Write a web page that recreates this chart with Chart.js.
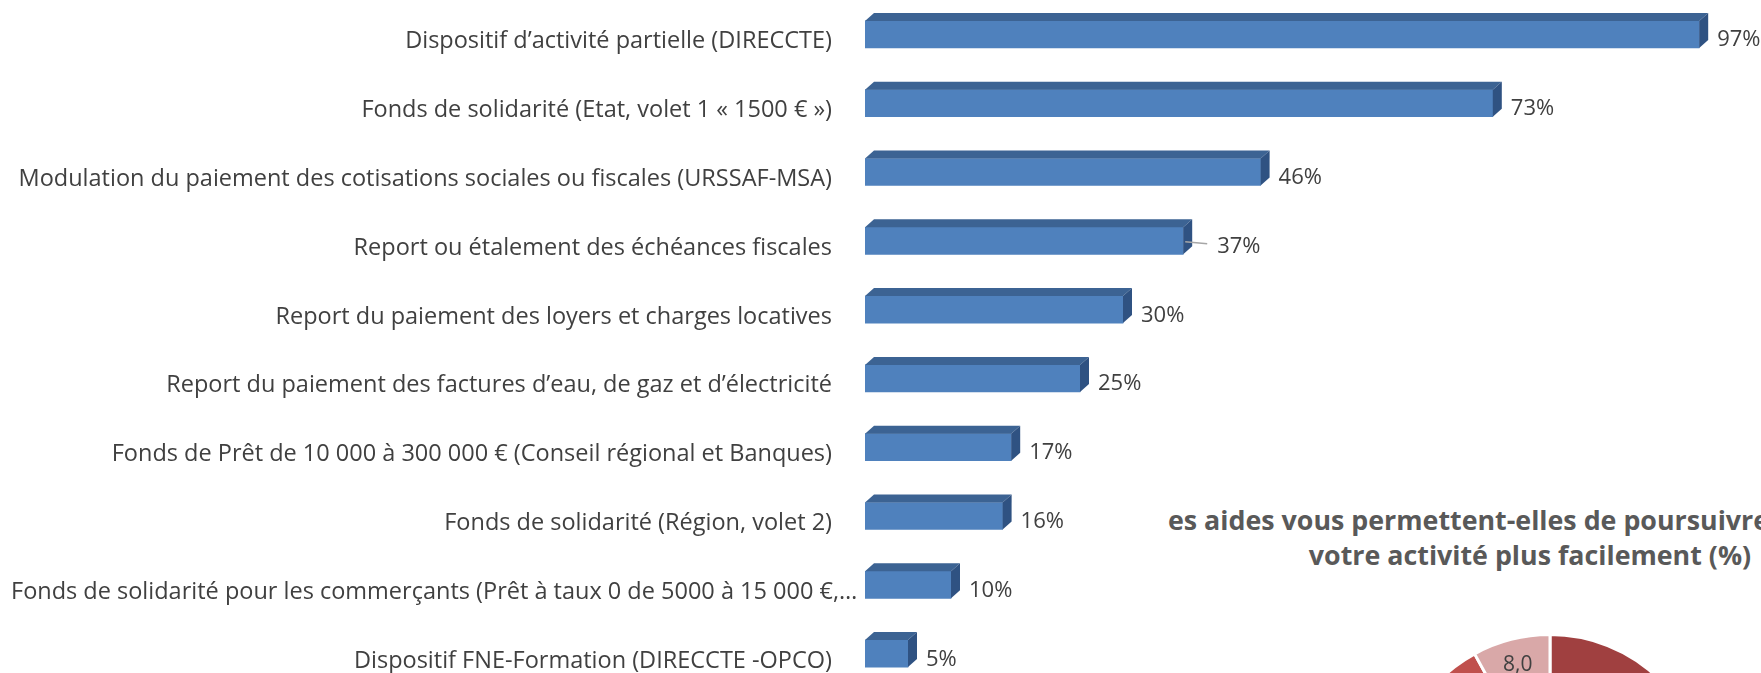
<!DOCTYPE html>
<html lang="fr">
<head>
<meta charset="utf-8">
<title>Aides mobilisées</title>
<script src="https://cdn.jsdelivr.net/npm/chart.js@4.4.1/dist/chart.umd.min.js"></script>
<style>
  html, body { margin: 0; padding: 0; background: #fff; overflow: hidden; }
  #page { position: relative; width: 1761px; height: 673px; overflow: hidden; }
  #barChart { position: absolute; left: 0; top: 0; }
  #pieChart { position: absolute; left: 1380px; top: 621px; }
  .pieTitle {
    position: absolute;
    font-family: 'Open Sans', sans-serif;
    font-weight: 700;
    font-size: 26.8px;
    line-height: 27px;
    color: #595959;
    white-space: nowrap;
  }
  #pieTitle1 { left: 1168px; top: 506px; }
  #pieTitle2 { left: 1530px; top: 541px; transform: translateX(-50%); }
</style>
</head>
<body>
<div id="page">
  <div class="pieTitle" id="pieTitle1">es aides vous permettent-elles de poursuivre</div>
  <div class="pieTitle" id="pieTitle2">votre activité plus facilement (%)</div>
  <canvas id="pieChart" width="340" height="340"></canvas>
  <canvas id="barChart" width="1761" height="688"></canvas>
</div>
<script>
// Données du graphique en barres
const categories = [
  'Dispositif d\u2019activité partielle (DIRECCTE)',
  'Fonds de solidarité (Etat, volet 1 « 1500 € »)',
  'Modulation du paiement des cotisations sociales ou fiscales (URSSAF-MSA)',
  'Report ou étalement des échéances fiscales',
  'Report du paiement des loyers et charges locatives',
  'Report du paiement des factures d\u2019eau, de gaz et d\u2019électricité',
  'Fonds de Prêt de 10 000 à 300 000 € (Conseil régional et Banques)',
  'Fonds de solidarité (Région, volet 2)',
  'Fonds de solidarité pour les commerçants (Prêt à taux 0 de 5000 à 15 000 €,\u2026',
  'Dispositif FNE-Formation (DIRECCTE -OPCO)'
];
const percentages = [97, 73, 46, 37, 30, 25, 17, 16, 10, 5];

// Données du camembert (seule la partie haute est visible)
const pieLabels = ['Oui', 'En partie', 'Non'];
const pieValues = [55.0, 37.0, 8.0];

const textColor = '#404040';
const labelFont = '23.5px "Open Sans", sans-serif';
const valueFont = '22px "Open Sans", sans-serif';

// Faces supérieure et latérale des barres (effet 3D)
const bar3d = {
  id: 'bar3d',
  afterDatasetsDraw(chart) {
    const ctx = chart.ctx;
    const dx = 9, dy = 8;
    chart.getDatasetMeta(0).data.forEach(bar => {
      const p = bar.getProps(['x', 'y', 'base', 'height'], true);
      const top = p.y - p.height / 2;
      const bottom = p.y + p.height / 2;
      ctx.save();
      ctx.fillStyle = '#3C6393';
      ctx.beginPath();
      ctx.moveTo(p.base, top);
      ctx.lineTo(p.base + dx, top - dy);
      ctx.lineTo(p.x + dx, top - dy);
      ctx.lineTo(p.x, top);
      ctx.closePath();
      ctx.fill();
      ctx.fillStyle = '#2F5282';
      ctx.beginPath();
      ctx.moveTo(p.x, top);
      ctx.lineTo(p.x + dx, top - dy);
      ctx.lineTo(p.x + dx, bottom - dy);
      ctx.lineTo(p.x, bottom);
      ctx.closePath();
      ctx.fill();
      ctx.restore();
    });
  }
};

// Libellés des catégories et des valeurs
const barLabels = {
  id: 'barLabels',
  afterDraw(chart) {
    const ctx = chart.ctx;
    const yScale = chart.scales.y;
    const right = chart.chartArea.left - 33;
    const leftMargin = 11;
    const leaderIndex = 3;
    ctx.save();
    ctx.fillStyle = textColor;
    ctx.font = labelFont;
    ctx.textAlign = 'right';
    ctx.textBaseline = 'alphabetic';
    categories.forEach((label, i) => {
      const w = ctx.measureText(label).width;
      const x = Math.max(right, leftMargin + w);
      ctx.fillText(label, x, yScale.getPixelForValue(i) + 14);
    });
    ctx.font = valueFont;
    ctx.textAlign = 'left';
    chart.getDatasetMeta(0).data.forEach((bar, i) => {
      let x = bar.x + 18;
      if (i === leaderIndex) {
        ctx.strokeStyle = '#A6A6A6';
        ctx.lineWidth = 1.5;
        ctx.beginPath();
        ctx.moveTo(bar.x + 2, bar.y + 1);
        ctx.lineTo(bar.x + 24, bar.y + 3);
        ctx.stroke();
        x += 16;
      }
      ctx.fillText(percentages[i] + '%', x, bar.y + 12);
    });
    ctx.restore();
  }
};

new Chart(document.getElementById('barChart'), {
  type: 'bar',
  data: {
    labels: categories,
    datasets: [{
      data: percentages,
      backgroundColor: '#4F81BD',
      barThickness: 27
    }]
  },
  options: {
    indexAxis: 'y',
    responsive: false,
    animation: false,
    layout: { padding: { left: 865, right: 36, top: 0, bottom: 0 } },
    scales: {
      x: { display: false, min: 0, max: 100 },
      y: { display: false }
    },
    plugins: {
      legend: { display: false },
      tooltip: { enabled: false }
    }
  },
  plugins: [bar3d, barLabels]
});

// Valeurs sur les parts du camembert
const pieValueLabels = {
  id: 'pieValueLabels',
  afterDatasetsDraw(chart) {
    const ctx = chart.ctx;
    ctx.save();
    ctx.fillStyle = textColor;
    ctx.font = '21px "Open Sans", sans-serif';
    ctx.textAlign = 'center';
    ctx.textBaseline = 'middle';
    chart.getDatasetMeta(0).data.forEach((arc, i) => {
      const p = arc.getProps(['x', 'y', 'startAngle', 'endAngle', 'outerRadius'], true);
      const mid = (p.startAngle + p.endAngle) / 2;
      const r = p.outerRadius * 0.83;
      const text = pieValues[i].toFixed(1).replace('.', ',');
      ctx.fillText(text, p.x + Math.cos(mid) * r, p.y + Math.sin(mid) * r);
    });
    ctx.restore();
  }
};

new Chart(document.getElementById('pieChart'), {
  type: 'pie',
  data: {
    labels: pieLabels,
    datasets: [{
      data: pieValues,
      backgroundColor: ['#A04040', '#C0504D', '#D9A8A8'],
      borderColor: '#ffffff',
      borderWidth: 3
    }]
  },
  options: {
    responsive: false,
    animation: false,
    layout: { padding: 12 },
    plugins: {
      legend: { display: false },
      tooltip: { enabled: false }
    }
  },
  plugins: [pieValueLabels]
});
</script>
</body>
</html>
